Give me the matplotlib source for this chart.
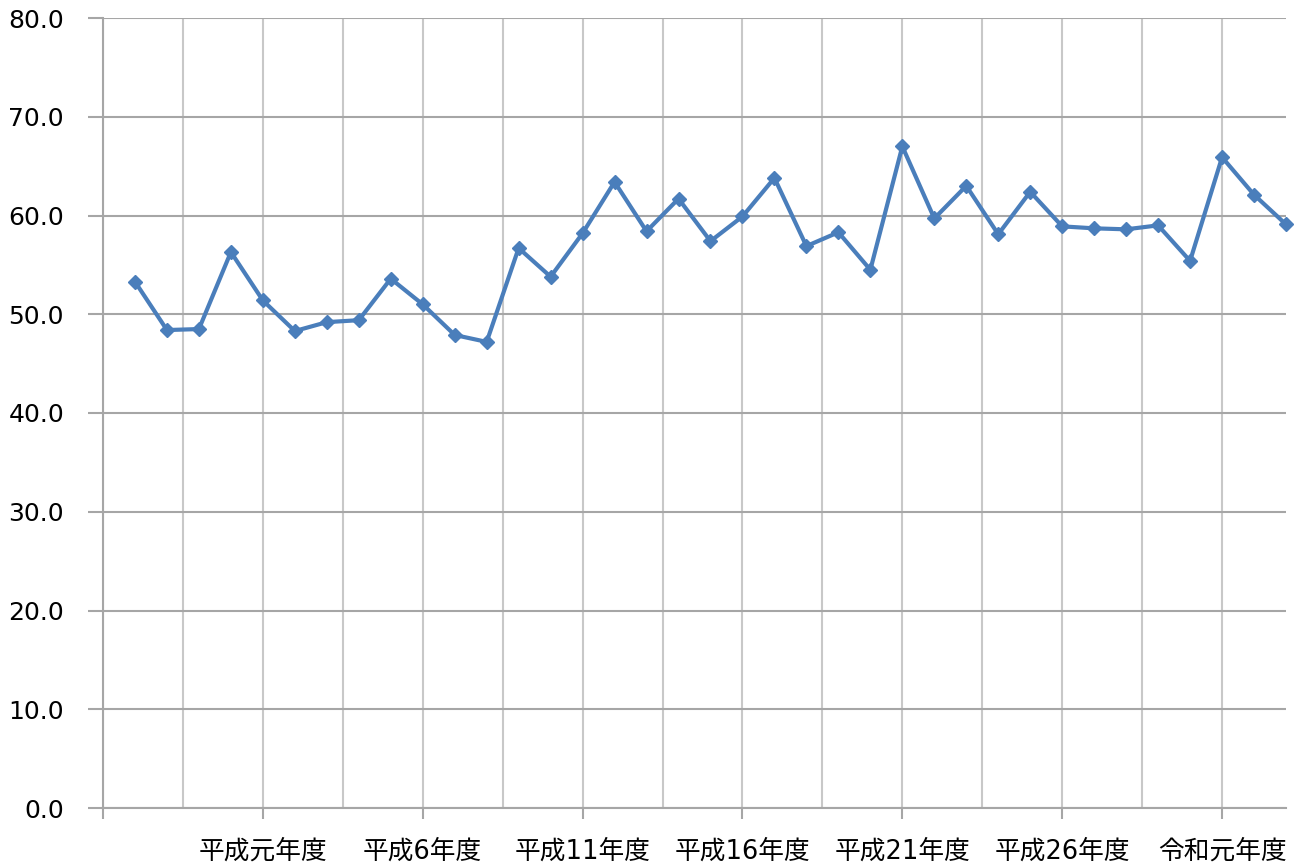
import matplotlib
matplotlib.use('Agg')
import matplotlib.pyplot as plt
import numpy as np

plt.rcParams['font.family'] = ['DejaVu Sans', 'Noto Sans CJK JP']

# 昭和60年度 ～ 令和3年度
values = [53.3, 48.4, 48.5, 56.3, 51.4, 48.3, 49.2, 49.4, 53.6, 51.0,
          47.9, 47.2, 56.7, 53.8, 58.2, 63.4, 58.4, 61.7, 57.4, 59.9,
          63.8, 56.9, 58.3, 54.5, 67.0, 59.7, 63.0, 58.1, 62.4, 58.9,
          58.7, 58.6, 59.0, 55.4, 65.9, 62.1, 59.1]
tick_labels = ['平成元年度', '平成6年度', '平成11年度', '平成16年度',
               '平成21年度', '平成26年度', '令和元年度']
label_idx = [4, 9, 14, 19, 24, 29, 34]

x = np.arange(len(values))

fig = plt.figure(figsize=(13, 8.68), dpi=100)
ax = fig.add_axes([103 / 1300, 1 - 808 / 868, (1286 - 103) / 1300, (808 - 18) / 868])

hcol = '#a6a6a6'
vcol = '#c8c8c8'

# vertical gridlines
for gx in np.arange(-1, 36.01, 2.5):
    ax.axvline(gx, color=vcol, lw=1.5, zorder=0)

ax.plot(x, values, color='#4a7ebb', lw=3, marker='D', markersize=7.5, zorder=3, clip_on=False)

ax.set_xlim(-1, 36)
ax.set_ylim(0, 80)
ax.set_yticks(np.arange(0, 81, 10))
ax.set_yticklabels([f'{v:.1f}' for v in np.arange(0, 81, 10)], fontsize=18)
ax.yaxis.grid(True, color=hcol, lw=1.5)
ax.set_axisbelow(True)

ax.set_xticks([-1] + label_idx)
ax.set_xticklabels([''] + tick_labels, fontsize=18.5)

for s in ['top', 'right']:
    ax.spines[s].set_visible(False)
ax.spines['left'].set_color(hcol)
ax.spines['left'].set_linewidth(1.5)
ax.spines['bottom'].set_color(hcol)
ax.spines['bottom'].set_linewidth(1.5)

ax.tick_params(axis='y', length=11, width=1.5, color=hcol, pad=17)
ax.tick_params(axis='x', length=8, width=1.5, color=hcol, pad=14)

fig.savefig('out.png', dpi=100)
